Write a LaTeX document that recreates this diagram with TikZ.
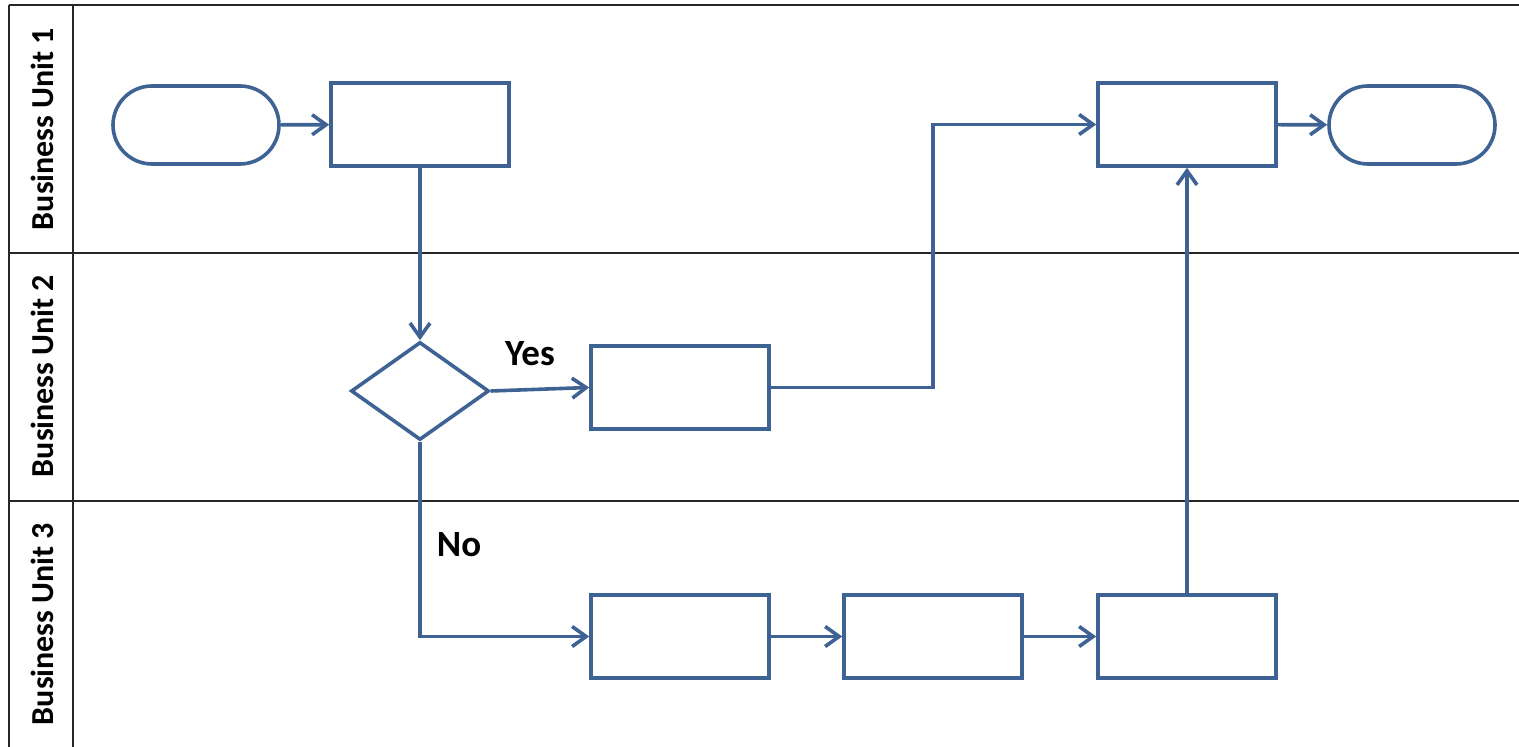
\documentclass[tikz,border=0pt]{standalone}
\usepackage{fontspec}
\setmainfont{Carlito}
\usetikzlibrary{arrows.meta}
\usetikzlibrary{shapes.geometric}
\usetikzlibrary{shapes.misc}
\usepackage{xcolor}
\definecolor{flowblue}{RGB}{63,98,148}

\begin{document}
\begin{tikzpicture}[x=0.5pt,y=-0.5pt,
    flow/.style={draw=flowblue, line width=1.8pt},
    procbox/.style={flow, rectangle, minimum width=89pt, minimum height=41.5pt, inner sep=0pt},
    termbox/.style={flow, rounded rectangle, minimum width=83pt, minimum height=39pt, inner sep=0pt},
    decbox/.style={flow, diamond, aspect=1.41, minimum width=69pt, minimum height=49pt, inner sep=0pt},
    link/.style={flow, -{Straight Barb[length=7pt,width=10pt,line width=1.8pt]}},
    lanelbl/.style={font=\fontsize{16}{18}\selectfont\bfseries},
    lbl/.style={font=\fontsize{18.5}{20}\selectfont\bfseries}]
      \useasboundingbox (0,0) rectangle (1519,747);

      % Lanes
      \draw[line width=0.8pt, black!85] (9,5) -- (1519,5);
      \draw[line width=0.8pt, black!85] (9,5) -- (9,747);
      \draw[line width=0.8pt, black!85] (73,5) -- (73,747);
      \foreach \y in {253,501}
      {
        \draw[line width=0.8pt, black!85] (9,\y) -- (1519,\y);
      }
      \foreach \n/\y in {1/129,2/376,3/624}
      {
        \node[lanelbl, rotate=90] (lane\n) at (42,\y) {Business Unit \n};
      }

      % Shapes
      \node[termbox] (start) at (196,125) {};
      \node[procbox] (task) at (420,124.5) {};
      \node[decbox] (check) at (420,391) {};
      \node[procbox] (yes) at (680,387.5) {};
      \node[procbox] (merge) at (1187,124.5) {};
      \node[termbox] (stop) at (1412,125) {};
      \node[procbox] (nofirst) at (680,636.5) {};
      \node[procbox] (nosecond) at (933,636.5) {};
      \node[procbox] (nothird) at (1187,636.5) {};

      % Links
      \draw[link] (start) -- (task);
      \draw[link] (task) -- (check);
      \draw[link] (check.east) -- (yes.west);
      \draw[link] (yes.east) -| (933,124.5) -- (merge.west);
      \draw[link] (merge) -- (stop);
      \draw[link] (check.south) |- (nofirst.west);
      \draw[link] (nofirst) -- (nosecond);
      \draw[link] (nosecond) -- (nothird);
      \draw[link] (nothird) -- (merge);

      % Labels
      \node[lbl] (yeslbl) at (530,354) {Yes};
      \node[lbl] (nolbl) at (459,545) {No};
  \end{tikzpicture}
\end{document}
